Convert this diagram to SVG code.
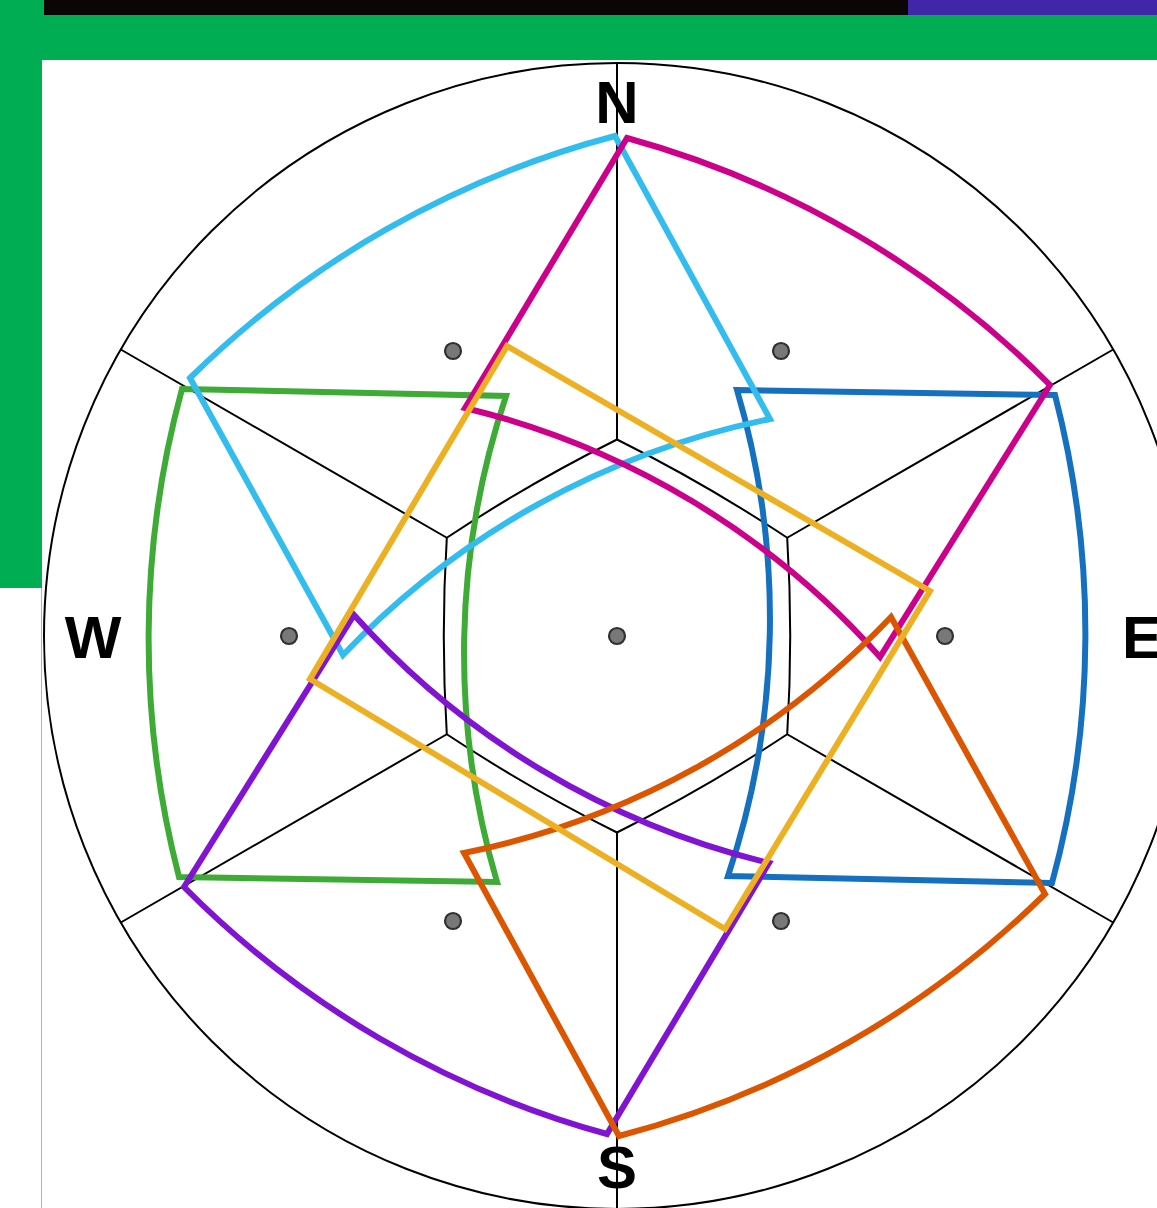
<svg xmlns="http://www.w3.org/2000/svg" width="1157" height="1208" viewBox="0 0 1157 1208">
<style>
.grid{fill:none;stroke:#000;stroke-width:2}
.dot{fill:#787878;stroke:#303030;stroke-width:2.2}
.shape{fill:none;stroke-width:6;stroke-linejoin:miter}
.lbl{font-family:"Liberation Sans",Arial,sans-serif;font-weight:bold;font-size:60px;fill:#000}
</style>
<rect x="0" y="0" width="1157" height="1208" fill="#fff"/>
<g id="frame">
<rect x="0" y="0" width="44" height="15" fill="#00ad52"/>
<rect x="44" y="0" width="864" height="15" fill="#0b0606"/>
<rect x="908" y="0" width="249" height="15" fill="#3f27a8"/>
<rect x="0" y="15" width="1157" height="45" fill="#00ad52"/>
<rect x="0" y="15" width="42" height="573" fill="#00ad52"/>
<rect x="41" y="588" width="1" height="620" fill="#9fbfa9"/>
</g>
<g id="grid">
<circle class="grid" cx="617" cy="636" r="573"/>
<path class="grid" d="M617,439.5 A1600,1600 0 0 1 787.2,537.75 A1600,1600 0 0 1 787.2,734.25 A1600,1600 0 0 1 617,832.5 A1600,1600 0 0 1 446.8,734.25 A1600,1600 0 0 1 446.8,537.75 A1600,1600 0 0 1 617,439.5 Z"/>
<path class="grid" d="M617,439.5 L617,63 M787.2,537.75 L1113.2,349.5 M787.2,734.25 L1113.2,922.5 M617,832.5 L617,1209 M446.8,734.25 L120.8,922.5 M446.8,537.75 L120.8,349.5"/>
</g>
<g id="dots">
<circle class="dot" cx="617" cy="636" r="8"/>
<circle class="dot" cx="453" cy="351" r="8"/>
<circle class="dot" cx="781" cy="351" r="8"/>
<circle class="dot" cx="289" cy="636" r="8"/>
<circle class="dot" cx="945" cy="636" r="8"/>
<circle class="dot" cx="453" cy="921" r="8"/>
<circle class="dot" cx="781" cy="921" r="8"/>
</g>
<g id="shapes">
<path id="green" class="shape" stroke="#3dab36" d="M182,389 L506,396 A810,810 0 0 0 497,882 L179,877 A950,950 0 0 1 182,389 Z"/>
<path id="blue" class="shape" stroke="#1570bf" d="M737,390 L1055,395 A950,950 0 0 1 1052,883 L728,876 A810,810 0 0 0 737,390 Z"/>
<path id="cyan" class="shape" stroke="#33bdee" d="M190,378 A950,950 0 0 1 615,136 L770,419 A810,810 0 0 0 343,655 Z"/>
<path id="magenta" class="shape" stroke="#cc008a" d="M627,138 A950,950 0 0 1 1050,385 L880,657 A810,810 0 0 0 465,408 Z"/>
<path id="purple" class="shape" stroke="#8014d2" d="M354,615 A810,810 0 0 0 769,863 L607,1134 A950,950 0 0 1 184,887 Z"/>
<path id="orange" class="shape" stroke="#dc5500" d="M891,617 A810,810 0 0 1 464,853 L619,1136 A950,950 0 0 0 1045,894 Z"/>
<path id="yellow" class="shape" stroke="#edb022" d="M507,346 L930,591 L725,929 L310,679 Z"/>
</g>
<g id="labels">
<text class="lbl" x="617" y="123" text-anchor="middle">N</text>
<text class="lbl" x="93" y="658" text-anchor="middle">W</text>
<text class="lbl" x="1122" y="658">E</text>
<text class="lbl" x="617" y="1188" text-anchor="middle">S</text>
</g>
</svg>
